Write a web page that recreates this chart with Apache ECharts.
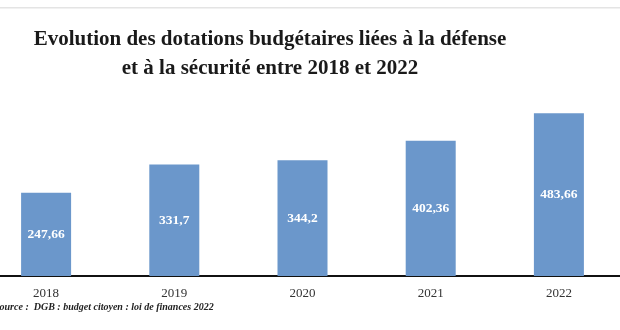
<!DOCTYPE html>
<html><head><meta charset="utf-8">
<script src="https://cdn.jsdelivr.net/npm/echarts@6/dist/echarts.min.js"></script>
<style>html,body{margin:0;padding:0;background:#fff}#c{width:620px;height:330px}</style>
</head><body><div id="c"></div>
<script>
const categories = ['2018', '2019', '2020', '2021', '2022'];
const values = [247.66, 331.7, 344.2, 402.36, 483.66];
const titleLines = ['Evolution des dotations budgétaires liées à la défense', 'et à la sécurité entre 2018 et 2022'];
const sourceText = 'Source :  DGB : budget citoyen : loi de finances 2022';

const chart = echarts.init(document.getElementById('c'));
const serif = '"Liberation Serif", "DejaVu Serif", serif';
chart.setOption({
  animation: false,
  backgroundColor: '#fff',
  title: {
    text: titleLines.join('\n'),
    left: 265, top: 20,
    textAlign: 'center',
    textStyle: { fontFamily: serif, fontWeight: 'bold', fontSize: 21, lineHeight: 29, color: '#1a1a1a' }
  },
  grid: { left: -18, right: -3, top: 74.2, bottom: 330 - 276, outerBoundsMode: 'none', containLabel: false },
  xAxis: {
    type: 'category', data: categories,
    axisLine: { lineStyle: { color: '#111', width: 2 } },
    axisTick: { show: false },
    axisLabel: { fontFamily: serif, fontSize: 13, color: '#333', margin: 11 }
  },
  yAxis: { type: 'value', min: 0, max: 600, show: false, splitLine: { show: false } },
  series: [{
    type: 'bar', data: values, barWidth: 50,
    itemStyle: { color: '#6b97cb' },
    label: {
      show: true, position: 'inside', fontFamily: serif, fontWeight: 'bold', fontSize: 13.5, color: '#fff',
      formatter: p => String(p.value).replace('.', ',')
    }
  }],
  graphic: [
    { type: 'rect', shape: { x: 0, y: 7, width: 620, height: 1.5 }, style: { fill: '#e4e4e4' }, silent: true },
    { type: 'text', left: -6, top: 302, style: { text: sourceText, font: 'italic bold 10px ' + serif, fill: '#222' } }
  ]
});
</script></body></html>
